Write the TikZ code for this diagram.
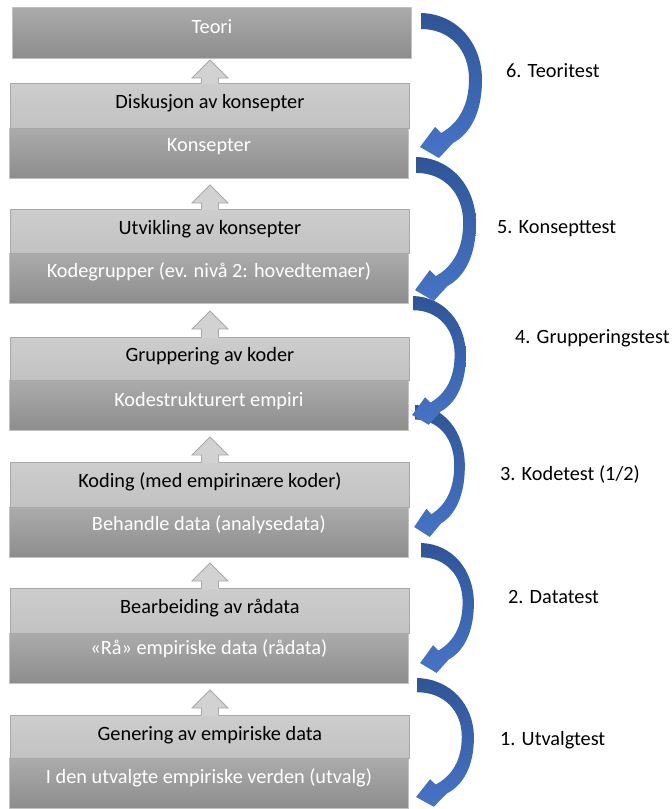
\documentclass[tikz,border=0pt]{standalone}
\usepackage{fontspec}
\setmainfont{Carlito}
\usetikzlibrary{calc}
\definecolor{dtop}{HTML}{ABABAB}
\definecolor{dbot}{HTML}{8D8D8D}
\definecolor{ltop}{HTML}{CDCDCD}
\definecolor{lbot}{HTML}{C2C2C2}
\definecolor{lborder}{HTML}{A8A8A8}
\definecolor{dborder}{HTML}{C2C2C2}
\definecolor{btop}{HTML}{2E5597}
\definecolor{bbot}{HTML}{4674C6}
\definecolor{afill}{HTML}{D2D2D2}
\tikzset{
  darkbox/.style={rectangle, draw=dborder, line width=0.8pt, top color=dtop, bottom color=dbot, inner sep=0pt, anchor=north west},
  lightbox/.style={rectangle, draw=lborder, line width=0.8pt, top color=ltop, bottom color=lbot, inner sep=0pt, anchor=north west},
  wtext/.style={text=white, font=\fontsize{20.3}{24}\selectfont, inner sep=0pt},
  btext/.style={text=black, font=\fontsize{20.3}{24}\selectfont, inner sep=0pt},
  ltext/.style={text=black, font=\fontsize{20.3}{24}\selectfont, inner sep=0pt, anchor=west},
  bluearrow/.style={top color=btop, bottom color=bbot, draw=none},
  hollowfill/.style={fill=afill, draw=none},
  hollowline/.style={draw=lborder, line width=0.8pt, line join=miter}
}
\newcommand\hollowup[2]{%
  \fill[hollowfill] (201.5,#2+1.2) -- (201.5,#1+18) -- (192,#1+18) -- (210,#1) -- (228,#1+18) -- (218.5,#1+18) -- (218.5,#2+1.2) -- cycle;
  \draw[hollowline] (201.5,#2) -- (201.5,#1+18) -- (192,#1+18) -- (210,#1) -- (228,#1+18) -- (218.5,#1+18) -- (218.5,#2);}
\newcommand\curvarr[4]{%
  \begin{scope}[shift={(#1,#2)}, xscale=#3, yscale=#4]
    \path[bluearrow] (0,0) .. controls (36,1) and (61,30) .. (61,67)
      .. controls (61,100) and (49,121) .. (32,130) -- (18,145) -- (-1,134) -- (14,114) -- (20,120)
      .. controls (38,110) and (48,92) .. (48,66)
      .. controls (48,37) and (29,16) .. (0,16) -- cycle;
  \end{scope}}
\begin{document}
\begin{tikzpicture}[x=1pt,y=-1pt]
\useasboundingbox (0,0) rectangle (672,809);
% top box
\node[darkbox, minimum width=399pt, minimum height=51pt] (teori) at (12,7) {};
\node[wtext] (tteori) at ($(teori.north)+(0,20)$) {Teori};
% pair 1
\node[darkbox, minimum width=399pt, minimum height=50pt] (d1) at (9,128) {};
\node[lightbox, minimum width=399pt, minimum height=45pt] (l1) at (10,83) {};
\node[btext] (tl1) at ($(l1.north)+(0,20)$) {Diskusjon av konsepter};
\node[wtext] (td1) at ($(d1.north)+(0,19)$) {Konsepter};
% pair 2
\node[darkbox, minimum width=399pt, minimum height=50pt] (d2) at (9,253) {};
\node[lightbox, minimum width=399pt, minimum height=44pt] (l2) at (10,209) {};
\node[btext] (tl2) at ($(l2.north)+(0,20)$) {Utvikling av konsepter};
\node[wtext] (td2) at ($(d2.north)+(0,19)$) {Kodegrupper (ev. nivå 2: hovedtemaer)};
% pair 3
\node[darkbox, minimum width=399pt, minimum height=50pt] (d3) at (9,380) {};
\node[lightbox, minimum width=399pt, minimum height=43pt] (l3) at (10,337) {};
\node[btext] (tl3) at ($(l3.north)+(0,19)$) {Gruppering av koder};
\node[wtext] (td3) at ($(d3.north)+(0,21)$) {Kodestrukturert empiri};
% pair 4
\node[darkbox, minimum width=399pt, minimum height=50pt] (d4) at (9,507) {};
\node[lightbox, minimum width=399pt, minimum height=45pt] (l4) at (10,462) {};
\node[btext] (tl4) at ($(l4.north)+(0,20)$) {Koding (med empirinære koder)};
\node[wtext] (td4) at ($(d4.north)+(0,18)$) {Behandle data (analysedata)};
% pair 5
\node[darkbox, minimum width=399pt, minimum height=50pt] (d5) at (9,633) {};
\node[lightbox, minimum width=399pt, minimum height=45pt] (l5) at (10,588) {};
\node[btext] (tl5) at ($(l5.north)+(0,20)$) {Bearbeiding av rådata};
\node[wtext] (td5) at ($(d5.north)+(0,16)$) {«Rå» empiriske data (rådata)};
% pair 6
\node[darkbox, minimum width=399pt, minimum height=50pt] (d6) at (9,758) {};
\node[lightbox, minimum width=399pt, minimum height=43pt] (l6) at (10,715) {};
\node[btext] (tl6) at ($(l6.north)+(0,20)$) {Genering av empiriske data};
\node[wtext] (td6) at ($(d6.north)+(0,20)$) {I den utvalgte empiriske verden (utvalg)};
% hollow up arrows
\hollowup{60}{83}
\hollowup{185}{209}
\hollowup{311}{337}
\hollowup{437}{462}
\hollowup{563}{588}
\hollowup{690}{715}
% curved arrows
\curvarr{417}{678}{0.933}{0.888}
\curvarr{421}{543}{0.867}{0.896}
\curvarr{415}{405}{0.817}{0.910}
\curvarr{413}{296}{0.867}{0.888}
\curvarr{416}{157}{0.983}{0.993}
\curvarr{421}{13}{1}{1}
% labels
\node[ltext] (lab6) at (506,71) {6. Teoritest};
\node[ltext] (lab5) at (497,229) {5. Konsepttest};
\node[ltext] (lab4) at (515,338) {4. Grupperingstest};
\node[ltext] (lab3) at (500,474) {3. Kodetest (1/2)};
\node[ltext] (lab2) at (508,597) {2. Datatest};
\node[ltext] (lab1) at (500,740) {1. Utvalgtest};
\end{tikzpicture}
\end{document}
